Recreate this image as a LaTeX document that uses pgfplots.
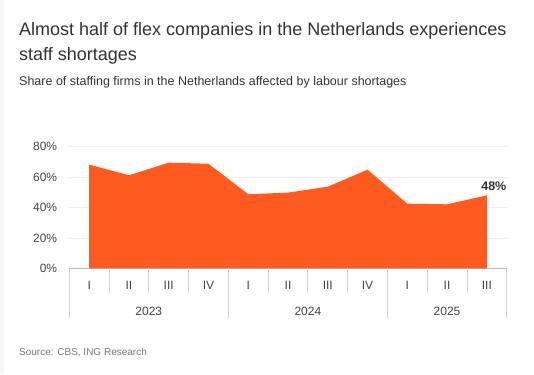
\documentclass[border=0pt]{standalone}
\usepackage{fontspec}
\setmainfont{Liberation Sans}
\usepackage{pgfplots}
\pgfplotsset{compat=1.18}
\definecolor{ingorange}{HTML}{FF5A1F}
\definecolor{txt}{HTML}{333333}
\definecolor{ticktxt}{HTML}{444444}
\definecolor{srcgray}{HTML}{777777}
\definecolor{axisgray}{HTML}{BBBBBB}
\definecolor{sepgray}{HTML}{D0D0D0}
\definecolor{gridgray}{HTML}{EEEEEE}
\begin{document}
\begin{tikzpicture}[x=1bp,y=1bp]
\useasboundingbox (0,0) rectangle (534,374);
\fill[white] (0,0) rectangle (534,374);
\fill[gray!7] (0,0) rectangle (4,374);
\node[anchor=base west, inner sep=0, font=\fontsize{18bp}{21bp}\selectfont, text=txt] at (19,338.3) {Almost half of flex companies in the Netherlands experiences};
\node[anchor=base west, inner sep=0, font=\fontsize{18bp}{21bp}\selectfont, text=txt] at (19,314) {staff shortages};
\node[anchor=base west, inner sep=0, font=\fontsize{12.5bp}{15bp}\selectfont, text=txt] at (19,289) {Share of staffing firms in the Netherlands affected by labour shortages};
\node[anchor=base west, inner sep=0, font=\fontsize{10bp}{12bp}\selectfont, text=srcgray] at (19,19) {Source: CBS, ING Research};
\begin{axis}[
  at={(69.3bp,105.7bp)}, anchor=south west,
  scale only axis, width=437.4bp, height=121.6bp,
  xmin=-0.5, xmax=10.5, ymin=0, ymax=80,
  clip=false,
  axis x line*=bottom, axis y line*=left,
  y axis line style={draw=none},
  x axis line style={draw=axisgray, line width=1bp, -},
  major tick length=0pt,
  ytick={0,20,40,60,80},
  yticklabel={\pgfmathprintnumber{\tick}\%},
  /pgf/number format/assume math mode=true,
  yticklabel style={inner sep=0pt, anchor=east, xshift=-12bp, text=ticktxt, font=\fontsize{12bp}{14bp}\selectfont},
  ymajorgrids, major grid style={draw=gridgray, line width=0.8bp},
  xtick={0,1,2,3,4,5,6,7,8,9,10},
  xticklabels={I,II,III,IV,I,II,III,IV,I,II,III},
  xticklabel style={inner sep=0pt, anchor=base, yshift=-21bp, text=ticktxt, font=\fontsize{12bp}{14bp}\selectfont},
  extra x ticks={1.5,5.5,9},
  extra x tick labels={2023,2024,2025},
  extra x tick style={xmajorgrids=false, xticklabel style={yshift=-25.7bp}},
]
\addplot[draw=none, fill=ingorange] coordinates {
(0,68.2) (1,61.2) (2,69.5) (3,68.8) (4,48.7) (5,49.8) (6,53.7) (7,64.9) (8,42.5) (9,42.1) (10,48.0)
} \closedcycle;
\pgfplotsinvokeforeach{0.5,1.5,2.5,4.5,5.5,6.5,8.5,9.5}{
  \draw[sepgray, line width=0.8bp] (axis cs:#1,0) -- ++(0bp,-25bp);
}
\pgfplotsinvokeforeach{-0.5,3.5,7.5,10.5}{
  \draw[sepgray, line width=0.8bp] (axis cs:#1,0) -- ++(0bp,-50bp);
}
\node[anchor=base, inner sep=0pt, font=\bfseries\fontsize{12.5bp}{14bp}\selectfont, text=txt, xshift=7bp, yshift=4.6bp] at (axis cs:10,48) {48\%};
\end{axis}
\end{tikzpicture}
\end{document}
